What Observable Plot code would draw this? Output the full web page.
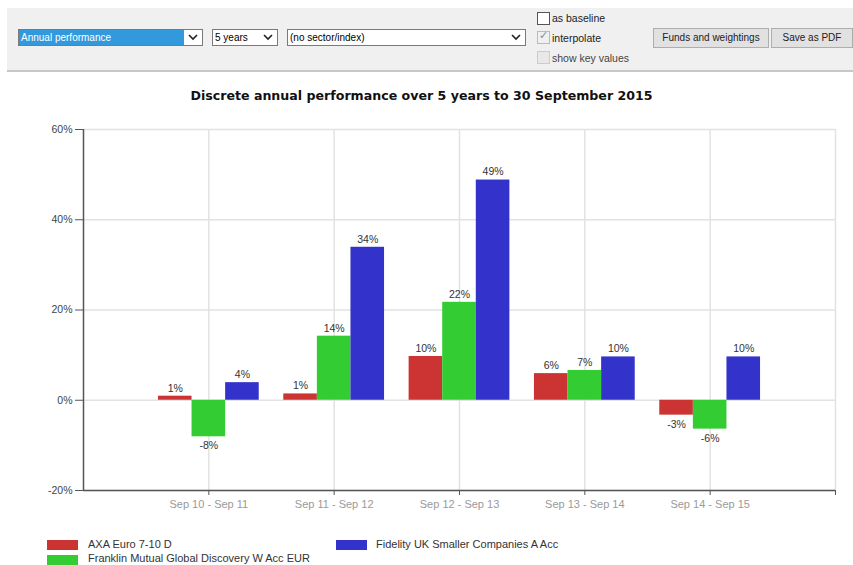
<!DOCTYPE html>
<html>
<head>
<meta charset="utf-8">
<script src="https://cdn.jsdelivr.net/npm/d3@7"></script>
<script src="https://cdn.jsdelivr.net/npm/@observablehq/plot@0.6"></script>
<style>
  html, body { margin: 0; padding: 0; background: #fff; }
  #page { position: relative; width: 853px; height: 565px; overflow: hidden; font-family: "Liberation Sans", Arial, sans-serif; }
  #toolbar { position: absolute; left: 7px; top: 8px; width: 846px; height: 62px; background: #f0f0f0; border-bottom: 2px solid #c8c8c8; }
  .sel { position: absolute; height: 15px; border: 1px solid #7a7a7a; background: #fff; font-size: 10px; line-height: 15px; color: #000; box-sizing: content-box; }
  .sel .txt { position: absolute; left: 2px; top: 0; white-space: nowrap; }
  .sel svg { position: absolute; right: 4px; top: 4px; }
  .cb { position: absolute; width: 11px; height: 11px; border: 1px solid #555; background: #fff; }
  .cblabel { position: absolute; font-size: 10.5px; color: #222; white-space: nowrap; }
  .btn { position: absolute; height: 18px; border: 1px solid #adadad; background: #e1e1e1; font-size: 10px; line-height: 18px; text-align: center; color: #222; }
  #title { position: absolute; left: 0; width: 843px; top: 88px; text-align: center; font-family: "DejaVu Sans", Verdana, sans-serif; font-weight: bold; font-size: 12.6px; color: #111; }
  #chart { position: absolute; left: 0; top: 115px; }
  .sw { position: absolute; width: 31px; height: 10px; }
  .lg { position: absolute; font-size: 11px; color: #333; white-space: nowrap; }
</style>
</head>
<body>
<div id="page">
  <div id="toolbar">
    <div class="sel" style="left:11px; top:21px; width:183px;">
      <div style="position:absolute;left:0;top:0;width:165px;height:15px;background:#3399dd;"></div>
      <span class="txt" style="color:#fff;">Annual performance</span>
      <svg width="10" height="7"><polyline points="1,1 5,5 9,1" fill="none" stroke="#222" stroke-width="1.6"/></svg>
    </div>
    <div class="sel" style="left:205px; top:21px; width:64px;"><span class="txt">5 years</span>
      <svg width="10" height="7"><polyline points="1,1 5,5 9,1" fill="none" stroke="#222" stroke-width="1.6"/></svg></div>
    <div class="sel" style="left:280px; top:21px; width:237px;"><span class="txt">(no sector/index)</span>
      <svg width="10" height="7"><polyline points="1,1 5,5 9,1" fill="none" stroke="#222" stroke-width="1.6"/></svg></div>
    <div class="cb" style="left:530px; top:4px;"></div>
    <div class="cblabel" style="left:545px; top:4px;">as baseline</div>
    <div class="cb" style="left:530px; top:23px; border-color:#bbb; background:#f0f0f0;"><span style="position:absolute;left:1px;top:-3px;font-size:11px;color:#888;">&#10003;</span></div>
    <div class="cblabel" style="left:545px; top:24px;">interpolate</div>
    <div class="cb" style="left:530px; top:43px; border-color:#ccc; background:#e8e8e8;"></div>
    <div class="cblabel" style="left:545px; top:44px; color:#444;">show key values</div>
    <div class="btn" style="left:646px; top:20px; width:114px;">Funds and weightings</div>
    <div class="btn" style="left:764px; top:20px; width:80px;">Save as PDF</div>
  </div>
  <div id="title">Discrete annual performance over 5 years to 30 September 2015</div>
  <div id="chart"></div>
  <div class="sw" style="left:47px; top:540px; background:#cc3333;"></div>
  <div class="lg" style="left:88px; top:538px;">AXA Euro 7-10 D</div>
  <div class="sw" style="left:47px; top:555px; background:#33cc33;"></div>
  <div class="lg" style="left:88px; top:552px;">Franklin Mutual Global Discovery W Acc EUR</div>
  <div class="sw" style="left:336px; top:540px; background:#3333cc;"></div>
  <div class="lg" style="left:376px; top:538px;">Fidelity UK Smaller Companies A Acc</div>
</div>
<script>
// ---- data ----
const periods = ["Sep 10 - Sep 11", "Sep 11 - Sep 12", "Sep 12 - Sep 13", "Sep 13 - Sep 14", "Sep 14 - Sep 15"];
const funds = ["AXA Euro 7-10 D", "Franklin Mutual Global Discovery W Acc EUR", "Fidelity UK Smaller Companies A Acc"];
const fundColors = ["#cc3333", "#33cc33", "#3333cc"];
const axaValues = [0.9, 1.4, 9.7, 5.9, -3.3];
const franklinValues = [-8.1, 14.2, 21.7, 6.6, -6.4];
const fidelityValues = [3.9, 33.9, 48.8, 9.6, 9.6];
const yTicks = [-20, 0, 20, 40, 60];

const series = [axaValues, franklinValues, fidelityValues];
const rows = [];
series.forEach((vals, j) => vals.forEach((v, i) => rows.push({period: i, fund: j, name: funds[j], value: v})));

const bw = 0.268; // bar width in category units
const cx = d => d.period + 1 + (d.fund - 1) * bw;

const chart = Plot.plot({
  width: 853,
  height: 400,
  marginLeft: 83,
  marginRight: 18,
  marginTop: 14,
  marginBottom: 25,
  style: {fontFamily: "Liberation Sans, Arial, sans-serif", fontSize: "11px", background: "transparent"},
  x: {type: "linear", domain: [0, 6], axis: null},
  y: {domain: [-20, 60], axis: null},
  color: {domain: funds, range: fundColors},
  marks: [
    Plot.ruleY(yTicks, {stroke: "#e2e2e2", strokeWidth: 1.5}),
    Plot.ruleX([1, 2, 3, 4, 5, 6], {stroke: "#e2e2e2", strokeWidth: 1.5}),
    Plot.rectY(rows, {
      x1: d => cx(d) - bw / 2,
      x2: d => cx(d) + bw / 2,
      y1: 0,
      y2: "value",
      fill: "name"
    }),
    Plot.text(rows.filter(d => d.value >= 0), {
      x: cx, y: "value", text: d => Math.round(d.value) + "%",
      dy: -8, fill: "#333", fontSize: 10.5
    }),
    Plot.text(rows.filter(d => d.value < 0), {
      x: cx, y: "value", text: d => Math.round(d.value) + "%",
      dy: 9, fill: "#333", fontSize: 10.5
    }),
    Plot.ruleX([0], {y1: -20, y2: 60, stroke: "#555", strokeWidth: 1.5}),
    Plot.ruleY([-20], {x1: 0, x2: 6, stroke: "#555", strokeWidth: 1.5}),
    Plot.axisY({ticks: yTicks, tickFormat: d => d + "%", tickSize: 8, tickPadding: 3, stroke: "#555", fill: "#444", fontSize: 10.5, label: null}),
    Plot.axisX({ticks: [1, 2, 3, 4, 5, 6], tickFormat: d => periods[d - 1] || "", tickSize: 5, tickPadding: 5, stroke: "#555", fill: "#9a9a9a", fontSize: 11, label: null})
  ]
});
document.getElementById("chart").appendChild(chart);
</script>
</body>
</html>
